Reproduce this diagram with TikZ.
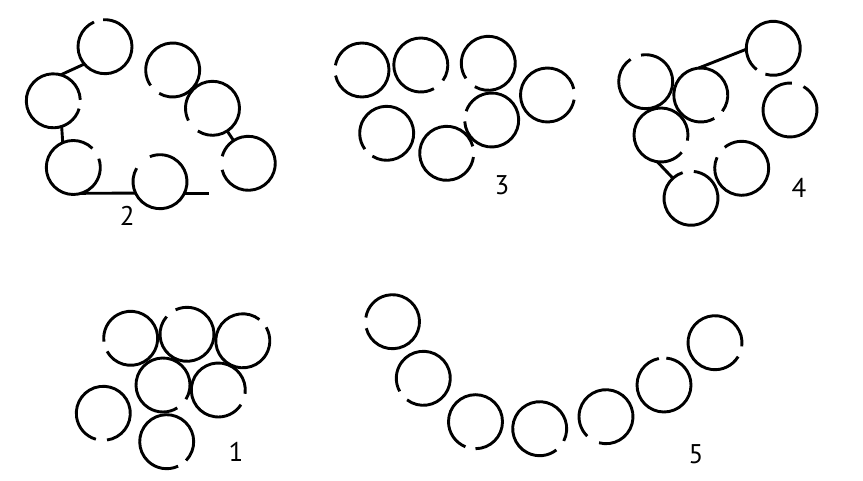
\documentclass[tikz,border=0pt]{standalone}
\usepackage{fontspec}
\setmainfont{PT Sans}
\def\ringr{27pt}
\tikzset{
  ring/.style={circle, minimum size=54pt, inner sep=0pt, outer sep=0pt},
  ringline/.style={line width=2.9pt, black},
  link/.style={line width=2.9pt, black},
  lab/.style={font=\fontsize{27}{27}\selectfont, inner sep=0pt}
}
\newcommand\ringat[5]{%
  \node[ring] (#1) at (#2,{480-#3}) {};
  \draw[ringline] (#1.center) ++(#5:\ringr) arc[start angle=#5, end angle={#4+360}, radius=\ringr];
}
\begin{document}
\begin{tikzpicture}[x=1pt,y=1pt]
\useasboundingbox (0,0) rectangle (863,480);
% group 2
\ringat{tA}{105}{46.7}{94}{114}
\ringat{tB}{53.3}{100.8}{-17}{2}
\ringat{tC}{73.3}{167.5}{19}{45}
\ringat{tD}{160}{181.7}{112}{150}
\ringat{tE}{172.7}{70}{215}{240}
\ringat{tF}{212.5}{108.3}{207}{237}
\ringat{tG}{248.3}{163.3}{165}{194}
\coordinate (tEnd) at (209.3,{480-193.3});
\draw[link] (tA.220) -- (tB.74);
\draw[link] (tB.-72) -- (tC.113);
\draw[link] (tC.-73) -- (tD.205);
\draw[link] (tD.-25) -- (tD.-25 -| tEnd);
\draw[link] (tF.-57) -- (tG.123);
\node[lab] (l2) at (127.3,{480-215.8}) {2};
% group 3
\ringat{hA}{362}{70}{170}{192}
\ringat{hB}{420.8}{65}{-61}{-35}
\ringat{hC}{488.3}{63.3}{214}{240}
\ringat{hD}{547.5}{95}{-10}{13}
\ringat{hE}{386.7}{133.3}{216}{238}
\ringat{hF}{446.7}{153.3}{-8}{15}
\ringat{hG}{491.7}{120}{161}{183}
\node[lab] (l3) at (502,{480-185}) {3};
% group 4
\ringat{fA}{773.3}{48.3}{232}{253}
\ringat{fB}{645.7}{81.7}{100}{124}
\ringat{fC}{700.8}{95}{-60}{-37}
\ringat{fD}{661}{135}{-40}{-12}
\ringat{fE}{691}{198.3}{84}{108}
\ringat{fF}{741.7}{168.3}{129}{156}
\ringat{fG}{790}{110}{60}{86}
\draw[link] (fA.182) -- (fC.95);
\draw[link] (fD.262) -- (fE.132);
\node[lab] (l4) at (799,{480-187.5}) {4};
% group 1
\ringat{oA}{130.7}{338.3}{187}{209}
\ringat{oB}{187}{334.3}{115}{139}
\ringat{oC}{242.8}{340.8}{30}{52}
\ringat{oD}{163}{385}{-58}{-32}
\ringat{oE}{218.3}{390}{-33}{-8}
\ringat{oF}{103.3}{413.3}{254}{278}
\ringat{oG}{166.7}{441.7}{-65}{-44}
\node[lab] (l1) at (236,{480-451.7}) {1};
% group 5
\ringat{vA}{392.5}{321.7}{171}{194}
\ringat{vB}{423.3}{378.3}{209}{233}
\ringat{vC}{475.5}{421.7}{248}{270}
\ringat{vD}{539.7}{428.7}{-52}{-27}
\ringat{vE}{606}{416.7}{226}{255}
\ringat{vF}{664}{385}{85}{101}
\ringat{vG}{715}{342.7}{-31}{-8}
\node[lab] (l5) at (696,{480-454}) {5};
\end{tikzpicture}
\end{document}
